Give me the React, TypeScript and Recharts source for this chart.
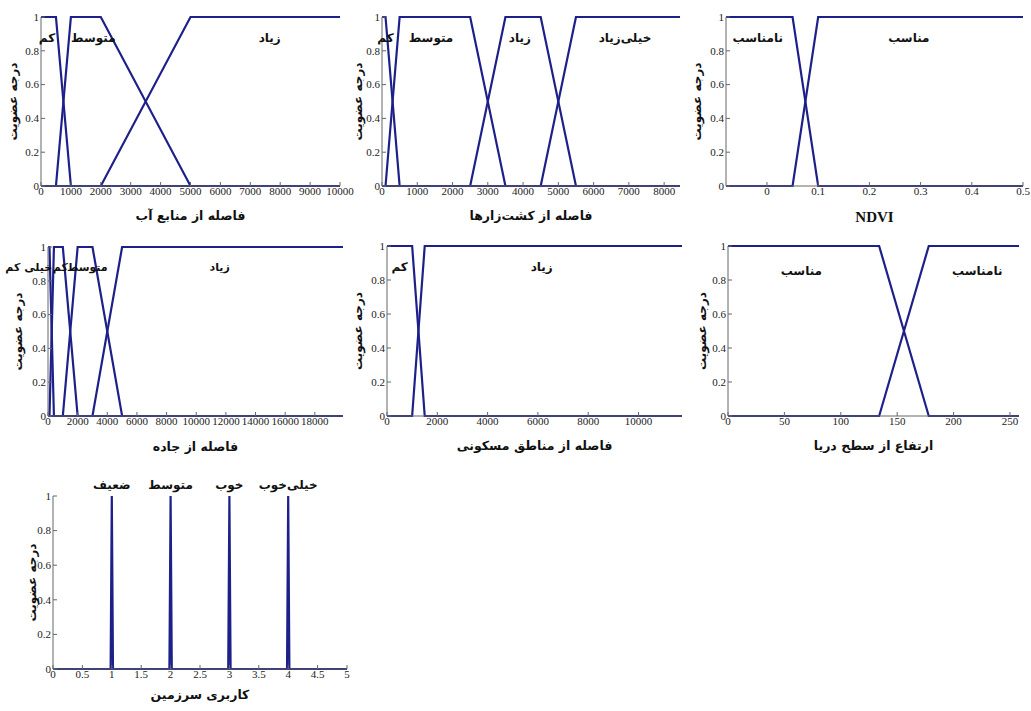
import { LineChart, Line, XAxis, YAxis, Label, ReferenceDot } from 'recharts';

type Pt = [number, number];

const NAVY = '#1d2088';
const FRAME = '#666';
const FA = "'DejaVu Sans', sans-serif";
const NUM = "'Liberation Serif', 'Times New Roman', serif";

const yTicks = [0, 0.2, 0.4, 0.6, 0.8, 1];
const yTitle = 'درجه عضویت';

// فاصله از منابع آب
const waterTicks = [0, 1000, 2000, 3000, 4000, 5000, 6000, 7000, 8000, 9000, 10000];
const waterLow: Pt[] = [[0, 1], [500, 1], [1000, 0], [10000, 0]];
const waterMid: Pt[] = [[0, 0], [500, 0], [1000, 1], [2000, 1], [5000, 0], [10000, 0]];
const waterHigh: Pt[] = [[0, 0], [2000, 0], [5000, 1], [10000, 1]];
const waterNames = ['کم', 'متوسط', 'زیاد'];
const waterNameX = [200, 1750, 7650];

// فاصله از کشت‌زارها
const farmTicks = [0, 1000, 2000, 3000, 4000, 5000, 6000, 7000, 8000];
const farmLow: Pt[] = [[0, 1], [100, 1], [500, 0], [8450, 0]];
const farmMid: Pt[] = [[0, 0], [100, 0], [500, 1], [2500, 1], [3500, 0], [8450, 0]];
const farmHigh: Pt[] = [[0, 0], [2500, 0], [3500, 1], [4500, 1], [5500, 0], [8450, 0]];
const farmVeryHigh: Pt[] = [[0, 0], [4500, 0], [5500, 1], [8450, 1]];
const farmNames = ['کم', 'متوسط', 'زیاد', 'خیلی‌زیاد'];
const farmNameX = [100, 1390, 3910, 6890];

// NDVI
const ndviTicks = [0, 0.1, 0.2, 0.3, 0.4, 0.5];
const ndviBad: Pt[] = [[-0.08, 1], [0.05, 1], [0.1, 0], [0.5, 0]];
const ndviGood: Pt[] = [[-0.08, 0], [0.05, 0], [0.1, 1], [0.5, 1]];
const ndviNames = ['نامناسب', 'مناسب'];
const ndviNameX = [-0.018, 0.277];

// فاصله از جاده
const roadTicks = [0, 2000, 4000, 6000, 8000, 10000, 12000, 14000, 16000, 18000];
const roadVeryLow: Pt[] = [[0, 1], [100, 1], [400, 0], [19900, 0]];
const roadLow: Pt[] = [[0, 0], [100, 0], [400, 1], [1000, 1], [2000, 0], [19900, 0]];
const roadMid: Pt[] = [[0, 0], [1000, 0], [2000, 1], [3000, 1], [5000, 0], [19900, 0]];
const roadHigh: Pt[] = [[0, 0], [3000, 0], [5000, 1], [19900, 1]];
const roadNames = ['خیلی کم', 'کم', 'متوسط', 'زیاد'];
const roadNameX = [-1300, 830, 2650, 11580];

// فاصله از مناطق مسکونی
const townTicks = [0, 2000, 4000, 6000, 8000, 10000];
const townLow: Pt[] = [[0, 1], [1000, 1], [1500, 0], [11730, 0]];
const townHigh: Pt[] = [[0, 0], [1000, 0], [1500, 1], [11730, 1]];
const townNames = ['کم', 'زیاد'];
const townNameX = [500, 6150];

// ارتفاع از سطح دریا
const elevTicks = [0, 50, 100, 150, 200, 250];
const elevGood: Pt[] = [[0, 1], [134, 1], [178, 0], [258, 0]];
const elevBad: Pt[] = [[0, 0], [134, 0], [178, 1], [258, 1]];
const elevNames = ['مناسب', 'نامناسب'];
const elevNameX = [65, 221];

// کاربری سرزمین
const landTicks = [0, 0.5, 1, 1.5, 2, 2.5, 3, 3.5, 4, 4.5, 5];
const landWeak: Pt[] = [[0, 0], [0.98, 0], [1, 1], [1.02, 0], [5, 0]];
const landMid: Pt[] = [[0, 0], [1.98, 0], [2, 1], [2.02, 0], [5, 0]];
const landGood: Pt[] = [[0, 0], [2.98, 0], [3, 1], [3.02, 0], [5, 0]];
const landVeryGood: Pt[] = [[0, 0], [3.98, 0], [4, 1], [4.02, 0], [5, 0]];
const landNames = ['ضعیف', 'متوسط', 'خوب', 'خیلی‌خوب'];
const landNameX = [1, 2, 3, 4];

type PanelProps = {
  x: number;
  y: number;
  w: number;
  h: number;
  domain: [number, number];
  ticks: number[];
  mfs: Pt[][];
  names: string[];
  nameX: number[];
  nameY: number;
  nameSize?: number;
  title: string;
  latinTitle?: boolean;
  titleGap: number;
  yGap: number;
};

const ML = 45;
const MT = 24;
const MR = 18;
const MB = 52;

const XTick = (props: any) => {
  const { x, y, payload } = props;
  return (
    <text x={x} y={y} dy="0.75em" textAnchor="middle" fontFamily={NUM} fontSize={11} fill="#222">
      {String(payload.value)}
    </text>
  );
};

const YTick = (props: any) => {
  const { x, y, payload } = props;
  return (
    <text x={x} y={y} dy="0.35em" textAnchor="end" fontFamily={NUM} fontSize={11} fill="#222">
      {String(payload.value)}
    </text>
  );
};

function Panel(p: PanelProps) {
  const W = p.w + ML + MR;
  const H = p.h + MT + MB;
  return (
    <div style={{ position: 'absolute', left: p.x - ML, top: p.y - MT }}>
      <LineChart width={W} height={H} margin={{ top: MT, right: MR, bottom: 0, left: 5 }}>
        <XAxis
          xAxisId="b"
          type="number"
          dataKey="x"
          domain={p.domain}
          ticks={p.ticks}
          interval={0}
          height={MB}
          tickSize={-4}
          tickMargin={5}
          axisLine={{ stroke: FRAME }}
          tickLine={{ stroke: FRAME }}
          tick={<XTick />}
        >
          <Label
            value={p.title}
            position="insideTop"
            offset={p.titleGap}
            style={{
              fontFamily: p.latinTitle ? NUM : FA,
              fontWeight: 'bold',
              fontSize: p.latinTitle ? 15 : 12.5,
              fill: '#111',
            }}
          />
        </XAxis>
        <XAxis
          xAxisId="t"
          orientation="top"
          type="number"
          domain={p.domain}
          ticks={p.ticks}
          interval={0}
          height={0}
          tickSize={-4}
          axisLine={{ stroke: FRAME }}
          tickLine={{ stroke: FRAME }}
          tickFormatter={() => ''}
        />
        <YAxis
          yAxisId="l"
          type="number"
          domain={[0, 1]}
          ticks={yTicks}
          interval={0}
          width={40}
          tickSize={-4}
          tickMargin={6}
          axisLine={{ stroke: FRAME }}
          tickLine={{ stroke: FRAME }}
          tick={<YTick />}
        >
          <Label
            value={yTitle}
            angle={-90}
            position="insideLeft"
            offset={40 - p.yGap}
            style={{ textAnchor: 'middle', fontFamily: FA, fontWeight: 'bold', fontSize: 12, fill: '#111' }}
          />
        </YAxis>
        <YAxis
          yAxisId="r"
          orientation="right"
          type="number"
          domain={[0, 1]}
          ticks={yTicks}
          interval={0}
          width={0}
          tickSize={-4}
          axisLine={{ stroke: FRAME }}
          tickLine={{ stroke: FRAME }}
          tickFormatter={() => ''}
        />
        {p.mfs.map((pts, i) => (
          <Line
            key={i}
            xAxisId="b"
            yAxisId="l"
            type="linear"
            data={pts.map(([x, y]) => ({ x, y }))}
            dataKey="y"
            stroke={NAVY}
            strokeWidth={2.2}
            dot={false}
            activeDot={false}
            isAnimationActive={false}
          />
        ))}
        {p.names.map((t, i) => (
          <ReferenceDot
            key={t + i}
            xAxisId="b"
            yAxisId="l"
            x={p.nameX[i]}
            y={p.nameY}
            r={0}
            ifOverflow="visible"
            label={{
              value: t,
              position: 'center',
              style: { fontFamily: FA, fontWeight: 'bold', fontSize: p.nameSize ?? 12, fill: '#111' },
            }}
          />
        ))}
      </LineChart>
    </div>
  );
}

export default function App() {
  return (
    <div style={{ position: 'absolute', left: 0, top: 0, width: 1031, height: 711, background: '#fff', overflow: 'hidden' }}>
      <Panel x={41} y={17} w={299} h={169} domain={[0, 10000]} ticks={waterTicks}
        mfs={[waterLow, waterMid, waterHigh]} names={waterNames} nameX={waterNameX} nameY={0.88}
        title="فاصله از منابع آب" titleGap={25} yGap={28} />
      <Panel x={382} y={17} w={298} h={169} domain={[0, 8450]} ticks={farmTicks}
        mfs={[farmLow, farmMid, farmHigh, farmVeryHigh]} names={farmNames} nameX={farmNameX} nameY={0.88}
        title="فاصله از کشت‌زارها" titleGap={25} yGap={24} />
      <Panel x={726} y={17} w={297} h={169} domain={[-0.08, 0.5]} ticks={ndviTicks}
        mfs={[ndviBad, ndviGood]} names={ndviNames} nameX={ndviNameX} nameY={0.88}
        title="NDVI" latinTitle titleGap={25} yGap={29} />
      <Panel x={48} y={247} w={295} h={169} domain={[0, 19900]} ticks={roadTicks}
        mfs={[roadVeryLow, roadLow, roadMid, roadHigh]} names={roadNames} nameX={roadNameX} nameY={0.88}
        nameSize={11} title="فاصله از جاده" titleGap={26} yGap={30} />
      <Panel x={387} y={246} w={295} h={170} domain={[0, 11730]} ticks={townTicks}
        mfs={[townLow, townHigh]} names={townNames} nameX={townNameX} nameY={0.88}
        title="فاصله از مناطق مسکونی" titleGap={25} yGap={29} />
      <Panel x={728} y={246} w={291} h={170} domain={[0, 258]} ticks={elevTicks}
        mfs={[elevGood, elevBad]} names={elevNames} nameX={elevNameX} nameY={0.855}
        title="ارتفاع از سطح دریا" titleGap={25} yGap={26} />
      <Panel x={53} y={496} w={294} h={173} domain={[0, 5]} ticks={landTicks}
        mfs={[landWeak, landMid, landGood, landVeryGood]} names={landNames} nameX={landNameX} nameY={1.064}
        title="کاربری سرزمین" titleGap={21} yGap={21} />
    </div>
  );
}
